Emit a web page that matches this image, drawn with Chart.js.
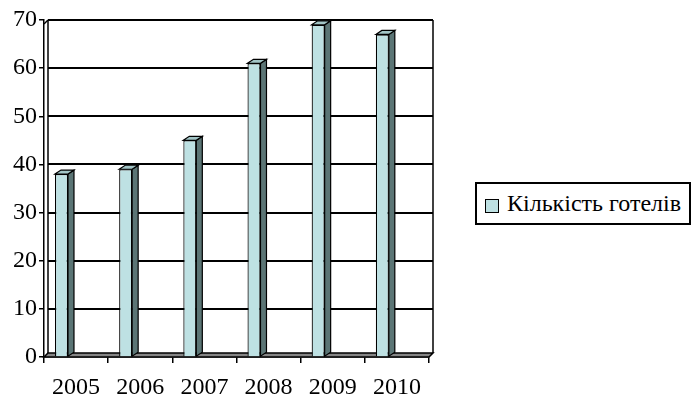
<!DOCTYPE html>
<html>
<head>
<meta charset="utf-8">
<script src="https://cdn.jsdelivr.net/npm/chart.js@4.4.1/dist/chart.umd.min.js"></script>
<style>
  body { margin: 0; background: #fff; }
  #wrap { position: relative; width: 691px; height: 397px; }
  #legend {
    position: absolute; left: 475px; top: 182px;
    width: 212px; height: 39px;
    border: 2px solid #000; background: #fff;
    font: 24px "Liberation Serif", "Times New Roman", serif; color: #000;
    white-space: nowrap;
  }
  #legend .sw {
    position: absolute; left: 8px; top: 15px;
    width: 12px; height: 12px;
    border: 1.5px solid #000;
  }
  #legend .txt { position: absolute; left: 30px; top: 7px; line-height: 24px; }
</style>
</head>
<body>
<div id="wrap">
  <canvas id="chart" width="691" height="397"></canvas>
  <div id="legend"></div>
</div>
<script>
const years = ['2005', '2006', '2007', '2008', '2009', '2010'];
const hotels = [38, 39, 45, 61, 69, 67];
const yTicks = [0, 10, 20, 30, 40, 50, 60, 70];
const seriesName = 'Кількість готелів';

const FRONT = '#bee1e3', SIDE = '#5b7575', TOP = '#a2c5c6';
const FONT = { family: "'Liberation Serif', 'Times New Roman', serif", size: 24 };

function poly(ctx, pts, fill) {
  ctx.beginPath();
  ctx.moveTo(pts[0][0], pts[0][1]);
  for (let i = 1; i < pts.length; i++) ctx.lineTo(pts[i][0], pts[i][1]);
  ctx.closePath();
  if (fill) { ctx.fillStyle = fill; ctx.fill(); }
  ctx.stroke();
}
function line(ctx, x1, y1, x2, y2) {
  ctx.beginPath(); ctx.moveTo(x1, y1); ctx.lineTo(x2, y2); ctx.stroke();
}

// back wall, floor and the 3d faces of the bars
const box3d = {
  id: 'box3d',
  beforeDatasetsDraw(chart) {
    const { ctx, chartArea: a, scales: { y } } = chart;
    const dx = 4, dy = 4;
    ctx.save();
    ctx.strokeStyle = '#000';
    ctx.lineWidth = 2;
    yTicks.forEach(v => {
      if (v === 0) return;
      const py = Math.round(y.getPixelForValue(v));
      line(ctx, a.left + dx, py, a.right + dx, py);
    });
    ctx.lineWidth = 1.5;
    line(ctx, a.left + dx, a.top, a.left + dx, a.bottom - dy);
    line(ctx, a.right + dx, a.top, a.right + dx, a.bottom - dy);
    line(ctx, a.left, a.top + dy, a.left + dx, a.top);
    poly(ctx, [[a.left, a.bottom], [a.right, a.bottom], [a.right + dx, a.bottom - dy], [a.left + dx, a.bottom - dy]], '#858585');
    ctx.restore();
  },
  afterDatasetsDraw(chart) {
    const { ctx } = chart;
    const dx = 6, dy = 4;
    ctx.save();
    ctx.strokeStyle = '#000';
    ctx.lineWidth = 1.2;
    chart.getDatasetMeta(0).data.forEach(bar => {
      const p = bar.getProps(['x', 'y', 'width', 'base'], true);
      const l = p.x - p.width / 2, r = p.x + p.width / 2;
      poly(ctx, [[r, p.y], [r + dx, p.y - dy], [r + dx, p.base - dy], [r, p.base]], SIDE);
      poly(ctx, [[l, p.y], [l + dx, p.y - dy], [r + dx, p.y - dy], [r, p.y]], TOP);
    });
    ctx.restore();
  }
};

const chart = new Chart(document.getElementById('chart').getContext('2d'), {
  type: 'bar',
  data: {
    labels: years,
    datasets: [{
      label: seriesName,
      data: hotels,
      backgroundColor: FRONT,
      borderColor: '#000',
      borderWidth: 1.2,
      categoryPercentage: 0.91,
      barPercentage: 0.445
    }, {
      // empty spacer so the bars sit left of the category centre, like the original
      label: '',
      data: [],
      categoryPercentage: 0.91,
      barPercentage: 0.445
    }]
  },
  options: {
    responsive: false,
    animation: false,
    layout: { padding: { top: 20, right: 262, left: 0, bottom: 0 } },
    plugins: { legend: { display: false }, tooltip: { enabled: false } },
    scales: {
      x: {
        afterFit(scale) { scale.height = 40; },
        grid: { display: true, drawOnChartArea: false, drawTicks: true, tickLength: 6, color: '#000', lineWidth: 1.5 },
        border: { display: true, color: '#000', width: 1.5 },
        ticks: { color: '#000', font: FONT, padding: 10, maxRotation: 0, autoSkip: false }
      },
      y: {
        min: 0, max: 70,
        afterFit(scale) { scale.width = 44; },
        afterBuildTicks(scale) { scale.ticks = yTicks.map(v => ({ value: v })); },
        grid: { display: true, drawOnChartArea: false, drawTicks: true, tickLength: 5, color: '#000', lineWidth: 1.5 },
        border: { display: true, color: '#000', width: 1.5 },
        ticks: { color: '#000', font: FONT, padding: 2 }
      }
    }
  },
  plugins: [box3d]
});

// legend
const lg = document.getElementById('legend');
const sw = document.createElement('span');
sw.className = 'sw';
sw.style.background = FRONT;
const tx = document.createElement('span');
tx.className = 'txt';
tx.textContent = seriesName;
lg.appendChild(sw);
lg.appendChild(tx);
</script>
</body>
</html>
